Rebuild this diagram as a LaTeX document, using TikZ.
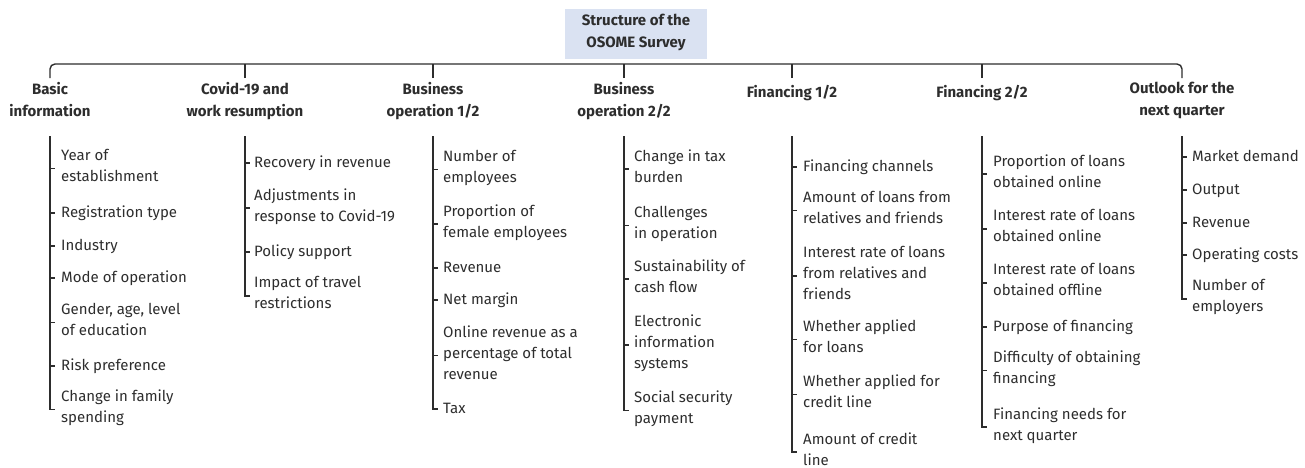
\documentclass[tikz,border=0pt]{standalone}
\usepackage{fontspec}
\setmainfont{Fira Sans}
\definecolor{ink}{RGB}{45,45,45}
\definecolor{titlefill}{RGB}{218,226,242}
\begin{document}
\begin{tikzpicture}[x=1pt,y=-1pt,
  conn/.style={draw=ink, line width=1.4pt},
  item/.style={anchor=west, align=left, inner sep=0pt, text=ink,
    font=\fontsize{15}{21}\selectfont,
    execute at begin node=\strut, execute at end node=\strut},
  cat/.style={anchor=north, align=center, inner xsep=0pt, inner ysep=4pt, text=ink,
    font=\bfseries\fontsize{15}{22}\selectfont,
    execute at begin node=\strut, execute at end node=\strut},
  titlebox/.style={fill=titlefill, text=ink, align=center, inner sep=0pt,
    minimum width=142pt, minimum height=50pt,
    font=\bfseries\fontsize{15}{22}\selectfont,
    execute at begin node=\strut, execute at end node=\strut}]
\useasboundingbox (0,0) rectangle (1305,467);

\node[titlebox] (root) at (636,34) {Structure of the\\OSOME Survey};

% categories
\node[cat] (c1) at (50,78) {Basic\\information};
\node[cat] (c2) at (245,78) {Covid-19 and\\work resumption};
\node[cat] (c3) at (433,78) {Business\\operation 1/2};
\node[cat] (c4) at (624,78) {Business\\operation 2/2};
\node[cat] (c5) at (792,78) {Financing 1/2};
\node[cat] (c6) at (982,78) {Financing 2/2};
\node[cat] (c7) at (1182,78) {Outlook for the\\next quarter};

\draw[conn, rounded corners=5pt] (c1.north) |- ([yshift=14pt]c7.north) -- (c7.north);
\foreach \c in {c2,c3,c4,c5,c6}
  \draw[conn] (\c.north) -- ([yshift=14pt]\c.north);

% spine tops
\coordinate (s1) at (50,136);
\coordinate (s2) at (245,136);
\coordinate (s3) at (433,136);
\coordinate (s4) at (624,136);
\coordinate (s5) at (792,136);
\coordinate (s6) at (982,136);
\coordinate (s7) at (1182,136);

% column 1
\node[item] (i11) at (61,168.5) {Year of\\establishment};
\node[item] (i12) at (61,213) {Registration type};
\node[item] (i13) at (61,246) {Industry};
\node[item] (i14) at (61,278) {Mode of operation};
\node[item] (i15) at (61,322.5) {Gender, age, level\\of education};
\node[item] (i16) at (61,366) {Risk preference};
\node[item] (i17) at (61,409.5) {Change in family\\spending};

% column 2
\node[item] (i21) at (254,163) {Recovery in revenue};
\node[item] (i22) at (254,208) {Adjustments in\\response to Covid-19};
\node[item] (i23) at (254,252) {Policy support};
\node[item] (i24) at (254,296) {Impact of travel\\restrictions};

% column 3
\node[item] (i31) at (443,169.5) {Number of\\employees};
\node[item] (i32) at (443,224) {Proportion of\\female employees};
\node[item] (i33) at (443,268) {Revenue};
\node[item] (i34) at (443,300) {Net margin};
\node[item] (i35) at (443,355.5) {Online revenue as a\\percentage of total\\revenue};
\node[item] (i36) at (443,409) {Tax};

% column 4
\node[item] (i41) at (634,169) {Change in tax\\burden};
\node[item] (i42) at (634,225.5) {Challenges\\in operation};
\node[item] (i43) at (634,279) {Sustainability of\\cash flow};
\node[item] (i44) at (634,345) {Electronic\\information\\systems};
\node[item] (i45) at (634,410.5) {Social security\\payment};

% column 5
\node[item] (i51) at (803,167) {Financing channels};
\node[item] (i52) at (803,210.5) {Amount of loans from\\relatives and friends};
\node[item] (i53) at (803,276) {Interest rate of loans\\from relatives and\\friends};
\node[item] (i54) at (803,339.5) {Whether applied\\for loans};
\node[item] (i55) at (803,394.5) {Whether applied for\\credit line};
\node[item] (i56) at (803,452) {Amount of credit\\line};

% column 6
\node[item] (i61) at (993,174) {Proportion of loans\\obtained online};
\node[item] (i62) at (993,229) {Interest rate of loans\\obtained online};
\node[item] (i63) at (993,283) {Interest rate of loans\\obtained offline};
\node[item] (i64) at (993,327) {Purpose of financing};
\node[item] (i65) at (993,370.5) {Difficulty of obtaining\\financing};
\node[item] (i66) at (993,427) {Financing needs for\\next quarter};

% column 7
\node[item] (i71) at (1192,157) {Market demand};
\node[item] (i72) at (1192,190) {Output};
\node[item] (i73) at (1192,223) {Revenue};
\node[item] (i74) at (1192,255) {Operating costs};
\node[item] (i75) at (1192,299) {Number of\\employers};

% spines with L ends
\draw[conn] (s1) -- (s1 |- i17.west) -- ++(5pt,0);
\draw[conn] (s2) -- (s2 |- i24.west) -- ++(5pt,0);
\draw[conn] (s3) -- (s3 |- i36.west) -- ++(5pt,0);
\draw[conn] (s4) -- (s4 |- i45.west) -- ++(5pt,0);
\draw[conn] (s5) -- (s5 |- i56.west) -- ++(5pt,0);
\draw[conn] (s6) -- (s6 |- i66.west) -- ++(5pt,0);
\draw[conn] (s7) -- (s7 |- i75.west) -- ++(5pt,0);

% ticks
\foreach \s/\list in {s1/{i11,i12,i13,i14,i15,i16},
                      s2/{i21,i22,i23},
                      s3/{i31,i32,i33,i34,i35},
                      s4/{i41,i42,i43,i44},
                      s5/{i51,i52,i53,i54,i55},
                      s6/{i61,i62,i63,i64,i65},
                      s7/{i71,i72,i73,i74}}
  \foreach \i in \list
    \draw[conn] (\s |- \i.west) -- ++(5pt,0);
\end{tikzpicture}
\end{document}
